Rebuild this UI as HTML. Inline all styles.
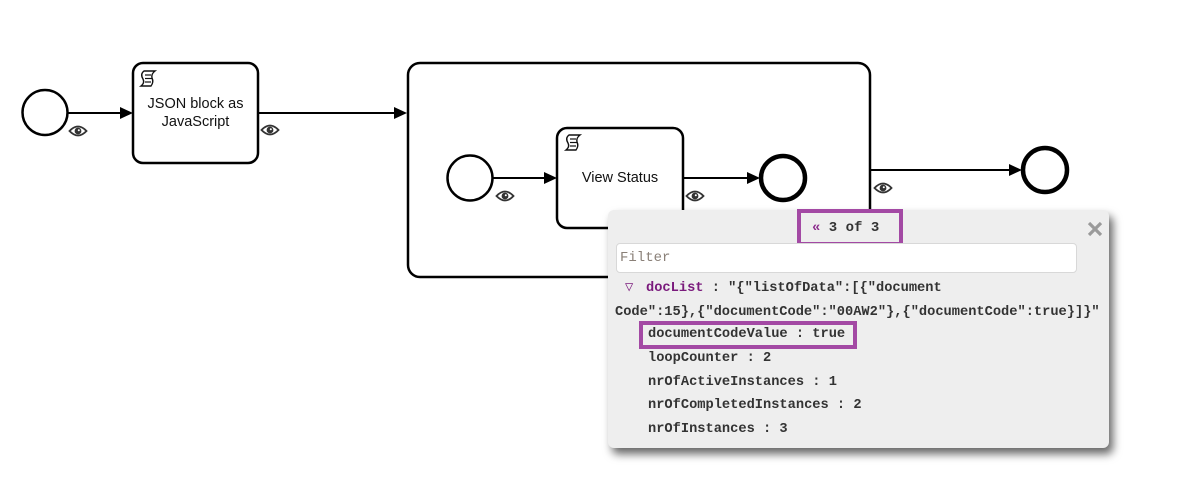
<!DOCTYPE html>
<html>
<head>
<meta charset="utf-8">
<style>
  html,body{margin:0;padding:0;background:#fff;}
  body{width:1202px;height:501px;position:relative;overflow:hidden;font-family:"Liberation Sans",Arial,sans-serif;}
  svg.d{position:absolute;left:0;top:0;}
  .popup{position:absolute;left:608px;top:210px;width:501px;height:238px;background:#eeeeee;border-radius:6px;box-shadow:4px 6px 9px rgba(0,0,0,0.6);}
  .mono{font-family:"Liberation Mono","DejaVu Sans Mono",monospace;font-weight:bold;font-size:13.7px;color:#333;position:absolute;white-space:pre;line-height:16px;}
  .hl{position:absolute;border:4px solid #a349a4;box-sizing:border-box;}
  .filter{position:absolute;left:8px;top:33px;width:461px;height:30px;background:#fff;border:1px solid #d8d8d8;border-radius:4px;box-sizing:border-box;}
  .filter span{position:absolute;left:3px;top:6px;font-family:"Liberation Mono","DejaVu Sans Mono",monospace;font-size:14px;color:#8a8078;}
</style>
</head>
<body>
<svg class="d" width="1202" height="501" viewBox="0 0 1202 501">
  <defs>
    <g id="eye">
      <path d="M-8.5,0 Q0,-9 8.5,0 Q0,9 -8.5,0 Z" fill="#fff" stroke="#333" stroke-width="1.8"/>
      <circle cx="0" cy="0" r="3.4" fill="#333"/>
      <circle cx="0.8" cy="-0.8" r="1" fill="#fff"/>
    </g>
    <g id="script">
      <path d="M4,1 L15,1 Q11,4 12,8 Q14,12 11,16 L1,16 Q5,13 3,9 Q0,4 4,1 Z" fill="#fff" stroke="#111" stroke-width="1.4"/>
      <line x1="5" y1="5" x2="11" y2="5" stroke="#111" stroke-width="1.2"/>
      <line x1="5" y1="8.5" x2="12" y2="8.5" stroke="#111" stroke-width="1.2"/>
      <line x1="5" y1="12" x2="11" y2="12" stroke="#111" stroke-width="1.2"/>
    </g>
  </defs>

  <!-- start event -->
  <circle cx="45" cy="112.5" r="22.5" fill="#fff" stroke="#000" stroke-width="2.5"/>
  <line x1="68" y1="113" x2="121" y2="113" stroke="#000" stroke-width="2"/>
  <polygon points="133,113 120,107 120,119" fill="#000"/>
  <use href="#eye" x="78" y="131"/>

  <!-- task 1 -->
  <rect x="133" y="63" width="125" height="100" rx="10" fill="#fff" stroke="#000" stroke-width="2.5"/>
  <use href="#script" x="140" y="70"/>
  <text x="195.5" y="108" text-anchor="middle" font-family="Liberation Sans, Arial, sans-serif" font-size="14.5" fill="#111">JSON block as</text>
  <text x="195.5" y="126" text-anchor="middle" font-family="Liberation Sans, Arial, sans-serif" font-size="14.5" fill="#111">JavaScript</text>
  <use href="#eye" x="270" y="130"/>

  <line x1="258" y1="113" x2="395" y2="113" stroke="#000" stroke-width="2"/>
  <polygon points="407,113 394,107 394,119" fill="#000"/>

  <!-- subprocess -->
  <rect x="408" y="63" width="462" height="214" rx="12" fill="#fff" stroke="#000" stroke-width="2.5"/>

  <!-- inner start -->
  <circle cx="470" cy="178" r="22.5" fill="#fff" stroke="#000" stroke-width="2.5"/>
  <line x1="493" y1="178" x2="545" y2="178" stroke="#000" stroke-width="2"/>
  <polygon points="557,178 544,172 544,184" fill="#000"/>
  <use href="#eye" x="505" y="196"/>

  <!-- task 2 -->
  <rect x="557" y="128" width="126" height="100" rx="10" fill="#fff" stroke="#000" stroke-width="2.5"/>
  <use href="#script" x="565" y="134"/>
  <text x="620" y="182" text-anchor="middle" font-family="Liberation Sans, Arial, sans-serif" font-size="14.5" fill="#111">View Status</text>
  <line x1="683" y1="178" x2="748" y2="178" stroke="#000" stroke-width="2"/>
  <polygon points="760,178 747,172 747,184" fill="#000"/>
  <use href="#eye" x="695" y="196"/>

  <!-- inner end -->
  <circle cx="783" cy="178" r="22" fill="#fff" stroke="#000" stroke-width="4.5"/>

  <!-- outer flow -->
  <line x1="870" y1="170" x2="1010" y2="170" stroke="#000" stroke-width="2"/>
  <polygon points="1022,170 1009,164 1009,176" fill="#000"/>
  <use href="#eye" x="883" y="188"/>
  <circle cx="1045" cy="170" r="22" fill="#fff" stroke="#000" stroke-width="4.5"/>
</svg>

<div class="popup">
  <div class="hl" style="left:189px;top:-1px;width:106px;height:37px;"></div>
  <div class="mono" style="left:204px;top:10px;font-size:14px;"><span style="color:#8b2a8c">«</span> 3 of 3</div>
  <svg style="position:absolute;left:479px;top:11px;" width="16" height="16" viewBox="0 0 16 16">
    <line x1="2" y1="2" x2="14" y2="14" stroke="#9a9a9a" stroke-width="3.2"/>
    <line x1="14" y1="2" x2="2" y2="14" stroke="#9a9a9a" stroke-width="3.2"/>
  </svg>
  <div class="filter"><span>Filter</span></div>

  <div class="mono" style="left:17px;top:71px;color:#7a1a7c;">▽</div>
  <div class="mono" style="left:38px;top:71px;"><span style="color:#7a1a7c">docList</span> : "{"listOfData":[{"document</div>
  <div class="mono" style="left:7px;top:95px;">Code":15},{"documentCode":"00AW2"},{"documentCode":true}]}"</div>

  <div class="hl" style="left:31px;top:111px;width:218px;height:28px;"></div>
  <div class="mono" style="left:40px;top:117px;">documentCodeValue : true</div>
  <div class="mono" style="left:40px;top:141px;">loopCounter : 2</div>
  <div class="mono" style="left:40px;top:165px;">nrOfActiveInstances : 1</div>
  <div class="mono" style="left:40px;top:188px;">nrOfCompletedInstances : 2</div>
  <div class="mono" style="left:40px;top:212px;">nrOfInstances : 3</div>
</div>
</body>
</html>
